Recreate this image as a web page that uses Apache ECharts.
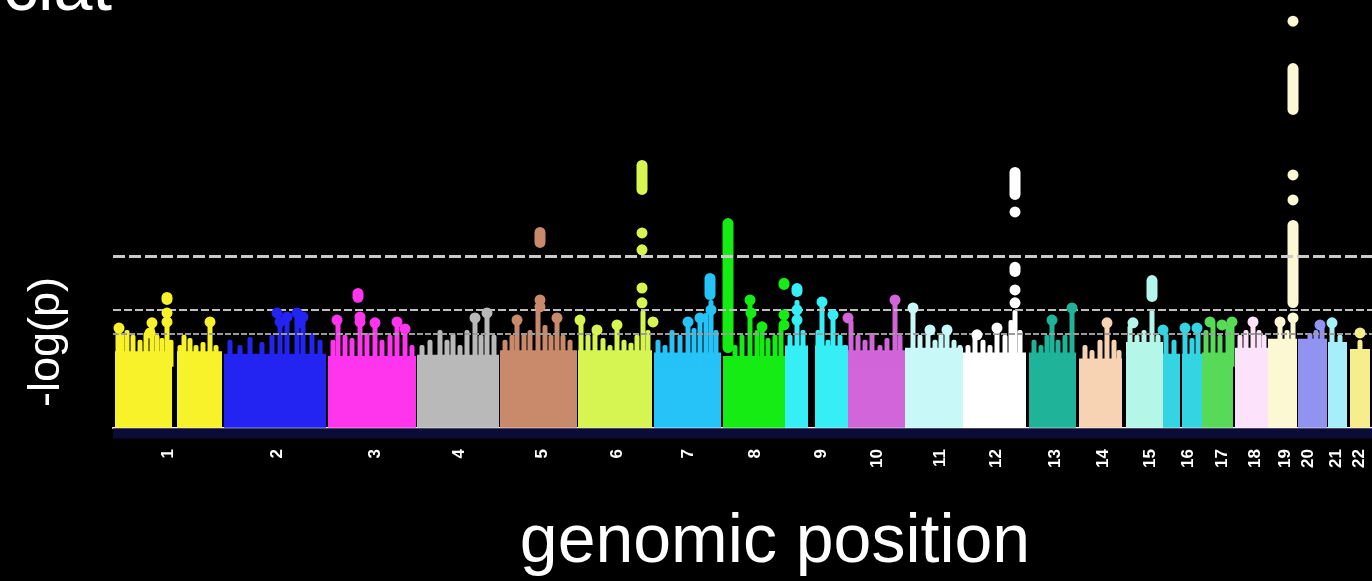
<!DOCTYPE html>
<html><head><meta charset="utf-8">
<script src="https://cdn.jsdelivr.net/npm/echarts@6/dist/echarts.min.js"></script>
<style>html,body{margin:0;padding:0;background:#000;}#c{width:1372px;height:581px;}</style>
</head><body><div id="c"></div>
<script>
// ---- data (x: genomic position index, y: -log(p)) ----
const chromosomes = ['1','2','3','4','5','6','7','8','9','10','11','12','13','14','15','16','17','18','19','20','21','22'];
const chrColors = ['#f7f22a','#2424f2','#ff35ee','#b9b9b9','#c98a6b','#d6f452','#25c3f7','#14ec14','#36eef6','#d165d9','#c9f8f8','#ffffff','#1fb39a','#f7d3b3','#b4f7e9','#34d4e2','#57da57','#fde2fc','#fbf8d3','#9292f1','#a6eef8','#f6ee8c'];
const tickPositions = [55,164,262,346,429,504,575,642,708,764,827,883,942,990,1037,1075,1109,1142,1172,1195,1223,1246];
const thresholds = [7.3, 5, 4];
// [chromosome index, start, end, dense-band level]
const chrSegments = [
  [0,2,59,3.25],[0,64,109,3.25],[1,111,213,3.15],[2,215,303,3.05],[3,304,386,3.1],
  [4,387,464,3.3],[5,465,539,3.3],[6,541,608,3.2],[7,610,672,3.05],[8,672,695,3.5],
  [8,702,735,3.5],[9,735,792,3.3],[10,792,850,3.4],[11,850,913,3.2],[12,916,963,3.2],
  [13,966,1009,2.95],[14,1013,1050,3.65],[15,1050,1067,3.15],[15,1069,1089,3.15],
  [16,1089,1120,3.2],[17,1122,1155,3.4],[18,1155,1184,3.78],[19,1185,1214,3.78],
  [20,1215,1234,3.65],[21,1237,1257,3.35]
];
// [chromosome index, position, top -log(p)]
const spikes = [
  [0,5,4.16],[0,9,4.03],[0,14,4.16],[0,20,3.95],[0,27,3.74],[0,33,4.07],[0,39,4.50],[0,44,3.95],[0,49,3.82],[0,54,4.88],[0,58,3.74],[0,67,3.52],[0,71,3.95],[0,77,3.82],[0,83,3.52],[0,90,3.65],[0,97,4.58],[0,103,3.52],
  [1,117,3.74],[1,127,3.52],[1,137,3.86],[1,149,3.65],[1,159,3.95],[1,167,4.67],[1,174,4.58],[1,184,4.75],[1,190,4.67],[1,199,4.03],[1,207,3.74],
  [2,220,3.74],[2,225,4.50],[2,232,3.95],[2,239,3.82],[2,247,4.67],[2,254,4.03],[2,262,4.37],[2,269,3.74],[2,277,3.95],[2,284,4.42],[2,292,4.16],[2,299,3.52],
  [3,309,3.52],[3,317,3.74],[3,327,4.16],[3,334,3.74],[3,340,4.03],[3,347,3.52],[3,354,4.16],[3,362,4.67],[3,368,3.95],[3,374,4.88],[3,381,3.95],
  [4,392,3.74],[4,399,3.95],[4,404,4.58],[4,411,4.03],[4,417,4.16],[4,425,5.22],[4,432,4.37],[4,438,3.95],[4,444,4.67],[4,450,3.95],[4,457,3.74],
  [5,468,4.50],[5,475,3.95],[5,482,4.16],[5,490,3.82],[5,497,3.52],[5,504,4.37],[5,511,3.74],[5,518,3.61],[5,524,3.95],[5,530,5.01],[5,535,4.16],
  [6,545,3.74],[6,552,3.52],[6,559,4.16],[6,567,3.95],[6,575,4.50],[6,581,4.24],[6,587,4.67],[6,593,4.88],[6,598,5.43],[6,603,4.16],
  [7,622,3.52],[7,629,3.95],[7,637,5.43],[7,644,4.16],[7,649,4.29],[7,655,3.82],[7,662,3.95],[7,668,4.37],
  [8,677,3.95],[8,684,5.43],[8,690,4.16],[8,705,4.16],[8,709,5.22],[8,715,3.74],[8,720,4.80],[8,727,3.95],[8,732,3.52],
  [9,738,4.58],[9,745,3.95],[9,752,3.74],[9,759,4.03],[9,767,3.52],[9,774,3.82],[9,782,5.35],[9,787,3.95],
  [10,800,5.09],[10,807,3.95],[10,815,4.16],[10,822,3.74],[10,828,4.03],[10,834,4.16],[10,841,3.74],[10,847,3.52],
  [11,855,3.52],[11,862,3.95],[11,870,3.74],[11,877,3.52],[11,884,4.24],[11,892,3.95],[11,898,4.58],[11,902,5.01],[11,907,4.16],
  [12,921,3.74],[12,928,3.52],[12,934,3.95],[12,939,4.50],[12,945,3.74],[12,952,3.95],[12,959,5.01],
  [13,972,3.52],[13,979,3.31],[13,987,3.74],[13,994,4.46],[13,1001,3.74],[13,1006,3.31],
  [14,1017,4.37],[14,1024,3.95],[14,1031,4.16],[14,1039,5.01],[14,1045,3.95],
  [15,1053,4.03],[15,1061,3.74],[15,1072,4.16],[15,1079,3.82],[15,1085,4.16],
  [16,1093,4.16],[16,1100,4.50],[16,1107,3.95],[16,1115,4.37],[16,1119,4.50],
  [17,1127,3.95],[17,1133,4.16],[17,1140,4.58],[17,1146,4.16],[17,1151,3.95],
  [18,1159,3.74],[18,1167,4.50],[18,1174,4.16],[18,1180,4.58],
  [19,1190,3.74],[19,1197,4.03],[19,1203,4.16],[19,1209,4.37],
  [20,1219,4.37],[20,1227,3.95],
  [21,1247,3.74]
];
// single highlighted SNPs: [position, -log(p), chromosome index]
const hits = [
  [6,4.24,0],[37,4.03,0],[39,4.46,0],[54,4.88,0],[54,4.50,0],[97,4.50,0],
  [164,4.88,1],[174,4.71,1],[184,4.88,1],[190,4.71,1],[167,4.50,1],[187,4.46,1],
  [224,4.58,2],[247,4.71,2],[247,4.50,2],[262,4.46,2],[284,4.50,2],[292,4.20,2],
  [362,4.67,3],[374,4.88,3],
  [404,4.58,4],[427,5.43,4],[427,5.14,4],[444,4.67,4],
  [467,4.58,5],[484,4.16,5],[504,4.37,5],[529,8.28,5],[529,7.56,5],[529,5.94,5],[529,5.31,5],[540,4.50,5],
  [575,4.50,6],[587,4.67,6],[598,5.01,6],
  [637,5.43,7],[638,4.88,7],[649,4.29,7],[671,4.80,7],[671,4.37,7],
  [684,5.01,8],[684,4.58,8],[709,5.35,8],[720,4.80,8],
  [735,4.67,9],[782,5.43,9],
  [800,5.09,10],[834,4.16,10],[817,4.16,10],
  [902,9.17,11],[902,5.86,11],[902,5.31,11],[884,4.24,11],[864,3.95,11],
  [959,5.09,12],[939,4.58,12],
  [994,4.46,13],
  [1020,4.46,14],
  [1050,4.16,15],[1072,4.24,15],[1084,4.24,15],
  [1097,4.50,16],[1109,4.37,16],[1119,4.50,16],
  [1140,4.50,17],
  [1180,17.27,18],[1180,10.74,18],[1180,9.68,18],[1180,4.67,18],[1167,4.50,18],
  [1207,4.37,19],
  [1219,4.46,20],
  [1247,4.03,21]
];
// stacked runs of SNPs: [chromosome index, position, low -log(p), high -log(p)]
const peakColumns = [
  [0,54,5.22,5.77],[2,245,5.31,5.94],[4,427,7.64,8.53],[5,529,9.89,11.38],
  [6,597,5.43,6.58],[7,615,3.18,8.91],[7,671,5.86,6.37],[8,684,5.56,6.15],
  [11,902,9.68,11.08],[11,902,6.41,7.05],[14,1039,5.35,6.49],
  [18,1180,13.29,15.49],[18,1180,5.09,8.83]
];

const chart = echarts.init(document.getElementById('c'), null, {renderer:'canvas'});
const FONT = '"Liberation Sans", Arial, sans-serif';

const option = {
  backgroundColor: '#000000',
  animation: false,
  grid: {left: 113, right: 0, top: 4, bottom: 139},
  xAxis: {
    type: 'value', min: 0, max: 1259,
    splitLine: {show: false},
    axisLine: {show: true, lineStyle: {color: '#ffffff', width: 2}},
    axisTick: {show: true, customValues: tickPositions, length: 5, lineStyle: {color: '#ffffff', width: 2}},
    axisLabel: {
      show: true, customValues: tickPositions, rotate: 90, margin: 7,
      color: '#ffffff', fontWeight: 'bold', fontSize: 17, fontFamily: FONT,
      formatter: function (v) {
        const i = tickPositions.indexOf(Math.round(v));
        return i >= 0 ? chromosomes[i] : '';
      }
    }
  },
  yAxis: {
    type: 'value', min: -0.6, max: 18, show: false,
    splitLine: {show: false}
  },
  graphic: [
    {type: 'text', x: 3, y: -9, silent: true,
     style: {text: 'ciat', fill: '#ffffff', font: '70px ' + FONT, align: 'left', verticalAlign: 'middle'}},
    {type: 'text', x: 47, y: 342, rotation: Math.PI / 2, silent: true,
     style: {text: '-log(p)', fill: '#ffffff', font: '45px ' + FONT, align: 'center', verticalAlign: 'middle'}},
    {type: 'text', x: 775, y: 543, silent: true,
     style: {text: 'genomic position', fill: '#ffffff', font: '68px ' + FONT, align: 'center', verticalAlign: 'middle'}}
  ],
  series: [
    {
      type: 'custom', name: 'blocks', z: 1,
      data: chrSegments,
      renderItem: function (params, api) {
        const c = api.value(0);
        const p0 = api.coord([api.value(1), api.value(3)]);
        const p1 = api.coord([api.value(2), 0]);
        return {type: 'rect', shape: {x: p0[0], y: p0[1], width: p1[0] - p0[0], height: p1[1] - p0[1]},
                style: {fill: chrColors[c]}};
      },
      markArea: {
        silent: true,
        itemStyle: {color: '#0b0b36'},
        data: [[{xAxis: 0, yAxis: -0.45}, {xAxis: 1259, yAxis: -0.02}]]
      }
    },
    {
      type: 'custom', name: 'spikes', z: 2,
      data: spikes,
      renderItem: function (params, api) {
        const c = api.value(0);
        const top = api.coord([api.value(1), api.value(2)]);
        const base = api.coord([api.value(1), 2.6]);
        return {type: 'rect', shape: {x: top[0] - 2.5, y: top[1], width: 5, height: base[1] - top[1], r: [2, 2, 0, 0]},
                style: {fill: chrColors[c]}};
      }
    },
    {
      type: 'scatter', name: 'thresholds', z: 3, data: [],
      markLine: {
        silent: true, symbol: 'none', label: {show: false},
        data: [
          {yAxis: thresholds[0], lineStyle: {color: '#cacaca', width: 3, type: [12, 4]}},
          {yAxis: thresholds[1], lineStyle: {color: '#bebebe', width: 2, type: [8, 3]}},
          {yAxis: thresholds[2], lineStyle: {color: '#9c9c9c', width: 2, type: [6, 2]}}
        ]
      }
    },
    {
      type: 'custom', name: 'peakColumns', z: 4,
      data: peakColumns,
      renderItem: function (params, api) {
        const c = api.value(0);
        const hi = api.coord([api.value(1), api.value(3)]);
        const lo = api.coord([api.value(1), api.value(2)]);
        return {type: 'rect', shape: {x: hi[0] - 5.5, y: hi[1], width: 11, height: lo[1] - hi[1], r: 5.5},
                style: {fill: chrColors[c]}};
      }
    },
    {
      type: 'scatter', name: 'hits', z: 5,
      symbol: 'circle', symbolSize: 11,
      data: hits,
      itemStyle: {color: function (p) { return chrColors[p.data[2]]; }, opacity: 1}
    }
  ]
};
chart.setOption(option);
</script></body></html>
